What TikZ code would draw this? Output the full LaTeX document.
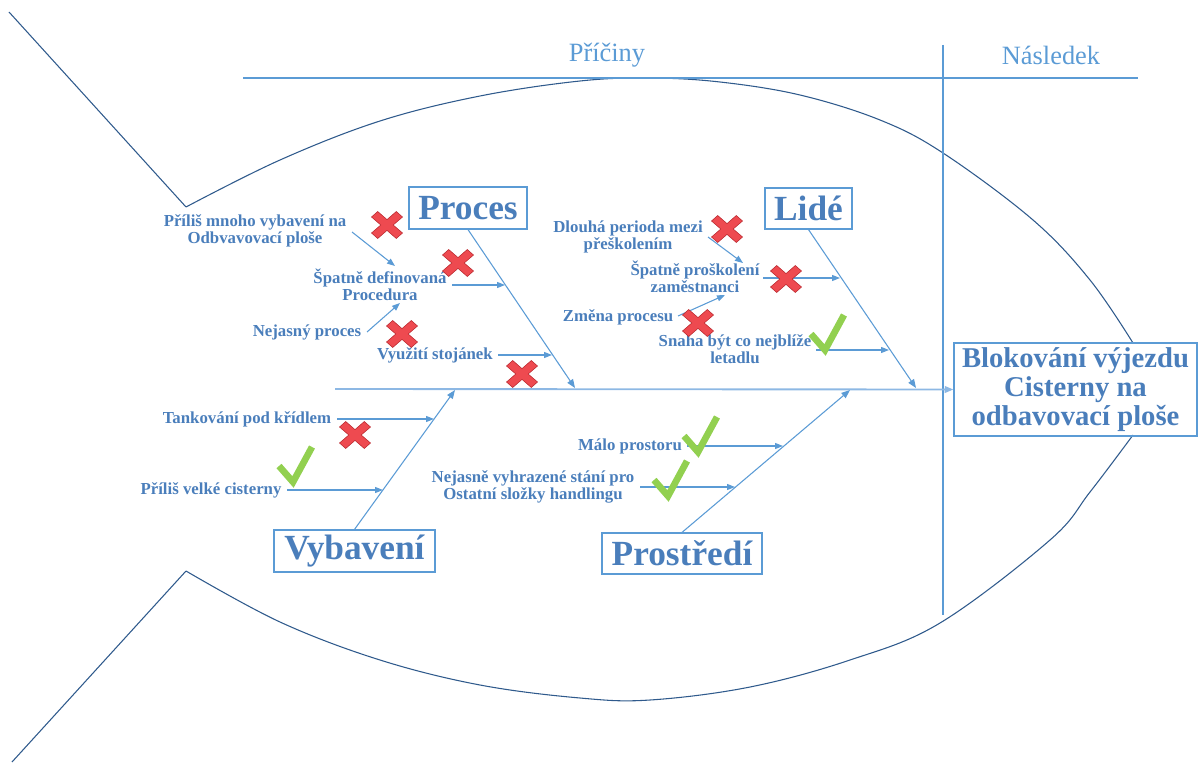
\documentclass[tikz,border=0pt]{standalone}
\usepackage{fontspec}
\setmainfont{Liberation Serif}
\usetikzlibrary{arrows.meta}

\definecolor{txtblue}{HTML}{4A7EBB}
\definecolor{lineblue}{HTML}{5B9BD5}
\definecolor{spineblue}{HTML}{8DB8E4}
\definecolor{fishblue}{HTML}{2F5A8C}
\definecolor{xred}{HTML}{EE4A50}
\definecolor{xredline}{HTML}{B8262C}
\definecolor{okgreen}{HTML}{92D050}

\tikzset{
  cause/.style={font=\bfseries\fontsize{12.6}{12.9}\selectfont, text=txtblue, align=center, inner sep=0pt},
  category/.style={draw=lineblue, line width=0.9pt, font=\bfseries\fontsize{26.5}{28}\selectfont,
                   text=txtblue, inner sep=0pt, anchor=center},
  heading/.style={font=\fontsize{19.8}{21}\selectfont, text=lineblue, inner sep=0pt},
  subarrow/.style={draw=lineblue, line width=0.8pt, -{Triangle[length=6pt,width=4.5pt]}},
  bone/.style={draw=lineblue, line width=0.8pt, -{Triangle[length=6.5pt,width=5pt]}},
  fish/.style={draw=fishblue, line width=0.8pt, line join=miter},
  xmark/.pic={
    \fill[xred, draw=xredline, line width=0.4pt]
      (-15.5,8) -- (-9.3,13.5) -- (0,5.4) -- (9.3,13.5) -- (15.5,8) -- (6.2,0) --
      (15.5,-8) -- (9.3,-13.5) -- (0,-5.4) -- (-9.3,-13.5) -- (-15.5,-8) -- (-6.2,0) -- cycle;
  },
  okmark/.pic={
    \draw[okgreen, line width=5pt, line join=miter, line cap=butt]
      (-16,1) -- (-2,17) -- (17,-18);
  }
}

\begin{document}
\begin{tikzpicture}[x=0.75pt, y=-0.75pt]
\useasboundingbox (0,0) rectangle (1198,763);

% fish outline: tail and body
\draw[fish] (9,12) -- (186,207)
  plot[smooth, tension=0.6] coordinates {(186,207) (280,160) (380,121) (480,96) (580,81)
    (650,78) (720,82) (800,95) (880,120) (943,153) (1033,220) (1090,280) (1133,343)};
\draw[fish] (12,762) -- (186,571)
  plot[smooth, tension=0.6] coordinates {(186,571) (280,622) (380,660) (480,685) (580,698)
    (650,700) (750,687) (850,660) (940,623) (1050,540) (1090,492) (1133,435)};

% header rule and separator
\draw[lineblue, line width=0.8pt] (243,78) -- (1138,78);
\draw[lineblue, line width=1.1pt] (943,45) -- (943,615);
\node[heading] (hcause) at (607,55) {Příčiny};
\node[heading] (heffect) at (1051,55) {Následek};

% effect box and spine
\node[draw=lineblue, line width=0.9pt, minimum width={243*0.75pt}, minimum height={93*0.75pt},
      inner sep=0pt, align=center, text=txtblue,
      font=\bfseries\fontsize{21.5}{21.8}\selectfont] (effect) at (1075.5,389.5)
      {Blokování výjezdu\\Cisterny na\\odbavovací ploše};
\coordinate (spinestart) at (335,389);
\draw[bone, draw=spineblue, line width=1.4pt] (spinestart) -- (effect.west);

% category boxes
\node[category, minimum width={118*0.75pt}, minimum height={42*0.75pt}] (proc) at (468,208) {Proces};
\node[category, minimum width={87*0.75pt}, minimum height={41*0.75pt}] (lide) at (808.5,208.5) {Lidé};
\node[category, minimum width={161*0.75pt}, minimum height={42*0.75pt}] (vyb) at (354.5,551) {Vybavení};
\node[category, minimum width={160*0.75pt}, minimum height={41*0.75pt}] (prost) at (682,553.5) {Prostředí};

% bone ends on the spine
\coordinate (procend) at (575,388);
\coordinate (lideend) at (916,388);
\coordinate (vybend) at (455,390);
\coordinate (prostend) at (850,390);
\draw[bone] (proc.south) -- (procend);
\draw[bone] (lide.south) -- (lideend);
\draw[bone] (vyb.north) -- (vybend);
\draw[bone] (prost.north) -- (prostend);

% causes: Proces
\node[cause] (c1) at (255,231) {Příliš mnoho vybavení na\\Odbvavovací ploše};
\node[cause] (c2) at (380,285) {Špatně definovaná\\Procedura};
\node[cause] (c3) at (307,332) {Nejasný proces};
\node[cause] (c4) at (435,355) {Využití stojánek};
\coordinate (c1s) at (352,232); \coordinate (c1e) at (395,266);
\coordinate (c2s) at (452,285); \coordinate (c2e) at (505,285);
\coordinate (c3s) at (367,332); \coordinate (c3e) at (400,303);
\coordinate (c4s) at (498,355); \coordinate (c4e) at (552,355);
\draw[subarrow] (c1s) -- (c1e);
\draw[subarrow] (c2s) -- (c2e);
\draw[subarrow] (c3s) -- (c3e);
\draw[subarrow] (c4s) -- (c4e);

% causes: Lidé
\node[cause] (l1) at (628,237) {Dlouhá perioda mezi\\přeškolením};
\node[cause] (l2) at (695,277) {Špatně proškolení\\zaměstnanci};
\node[cause] (l3) at (618,317) {Změna procesu};
\node[cause] (l4) at (735,349) {Snaha být co nejblíže\\letadlu};
\coordinate (l1s) at (708,237); \coordinate (l1e) at (743,263);
\coordinate (l2s) at (763,278); \coordinate (l2e) at (840,278);
\coordinate (l3s) at (678,316); \coordinate (l3e) at (725,295);
\coordinate (l4s) at (816,350); \coordinate (l4e) at (889,350);
\draw[subarrow] (l1s) -- (l1e);
\draw[subarrow] (l2s) -- (l2e);
\draw[subarrow] (l3s) -- (l3e);
\draw[subarrow] (l4s) -- (l4e);

% causes: Vybavení
\node[cause] (v1) at (247,419) {Tankování pod křídlem};
\node[cause] (v2) at (211,490) {Příliš velké cisterny};
\coordinate (v1s) at (337,419); \coordinate (v1e) at (434,419);
\coordinate (v2s) at (287,490); \coordinate (v2e) at (383,490);
\draw[subarrow] (v1s) -- (v1e);
\draw[subarrow] (v2s) -- (v2e);

% causes: Prostředí
\node[cause] (p1) at (630,446) {Málo prostoru};
\node[cause] (p2) at (533,487) {Nejasně vyhrazené stání pro\\Ostatní složky handlingu};
\coordinate (p1s) at (687,446); \coordinate (p1e) at (783,446);
\coordinate (p2s) at (640,487); \coordinate (p2e) at (735,487);
\draw[subarrow] (p1s) -- (p1e);
\draw[subarrow] (p2s) -- (p2e);

% evaluation marks
\pic at (387,225) {xmark};
\pic at (458,263) {xmark};
\pic at (402,334) {xmark};
\pic at (522,374) {xmark};
\pic at (727,229) {xmark};
\pic at (786,279) {xmark};
\pic at (698,323) {xmark};
\pic at (355,435) {xmark};
\pic at (827,333) {okmark};
\pic at (295,465) {okmark};
\pic at (700,435) {okmark};
\pic at (670,479) {okmark};
\end{tikzpicture}
\end{document}
